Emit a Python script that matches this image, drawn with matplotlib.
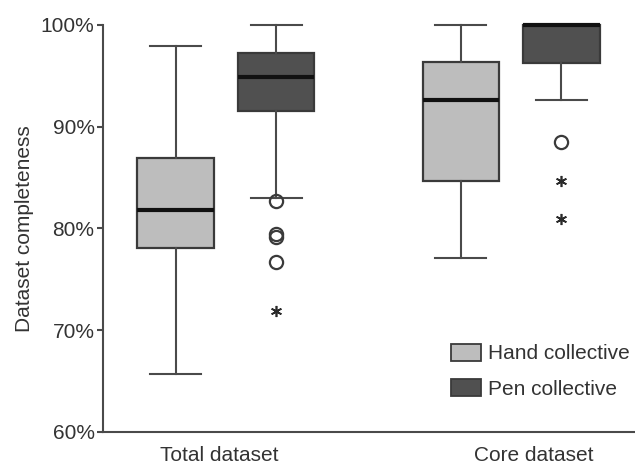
import matplotlib.pyplot as plt
from matplotlib.patches import Patch
from matplotlib.ticker import PercentFormatter

# Data (percent)
groups = ['Total dataset', 'Core dataset']
series = ['Hand collective', 'Pen collective']

# low whisker, Q1, median, Q3, high whisker
hand_stats = [[65.7, 78.1, 81.8, 86.9, 97.9], [77.1, 84.7, 92.6, 96.4, 100.0]]
pen_stats = [[83.0, 91.5, 94.9, 97.2, 100.0], [92.6, 96.3, 100.0, 100.0, 100.0]]

# outliers (circles) and extremes (stars)
hand_outliers = [[], []]
pen_outliers = [[82.7, 79.5, 79.2, 76.7], [88.5]]
hand_extremes = [[], []]
pen_extremes = [[71.9], [84.7, 80.9]]

colors = ['#bdbdbd', '#505050']
line_c = '#4a4a4a'
text_c = '#333333'

plt.rcParams['font.family'] = ['Liberation Sans', 'DejaVu Sans']

fig = plt.figure(figsize=(6.35, 4.71), dpi=100)
ax = fig.add_axes([0.162, 0.083, 0.838, 0.864])

offset = 0.177
width = 0.267


def make_stats(vals, fl):
    lo, q1, med, q3, hi = vals
    return dict(whislo=lo, q1=q1, med=med, q3=q3, whishi=hi, fliers=fl)


for s, (stats, outl, extr) in enumerate([(hand_stats, hand_outliers, hand_extremes),
                                          (pen_stats, pen_outliers, pen_extremes)]):
    pos = [g + 1 + (offset if s else -offset) for g in range(len(groups))]
    bx = [make_stats(stats[g], outl[g]) for g in range(len(groups))]
    arts = ax.bxp(bx, positions=pos, widths=width, patch_artist=True,
                  capwidths=0.18, manage_ticks=False,
                  boxprops=dict(facecolor=colors[s], edgecolor='#3a3a3a', linewidth=1.6),
                  medianprops=dict(color='#111111', linewidth=3),
                  whiskerprops=dict(color=line_c, linewidth=1.5),
                  capprops=dict(color=line_c, linewidth=1.5),
                  flierprops=dict(marker='o', markersize=9.5, markerfacecolor='none',
                                  markeredgecolor='#3a3a3a', markeredgewidth=1.6))
    for key in arts:
        for a in arts[key]:
            a.set_clip_on(False)
    for g in range(len(groups)):
        if extr[g]:
            ax.plot([pos[g]] * len(extr[g]), extr[g], linestyle='none',
                    marker=(6, 2, 0), markersize=8, markeredgecolor='#2a2a2a',
                    markeredgewidth=1.2)

ax.set_xlim(0.568, 2.435)
ax.set_ylim(60, 100)
ax.set_yticks([60, 70, 80, 90, 100])
ax.yaxis.set_major_formatter(PercentFormatter(decimals=0))
ax.set_xticks([0.975, 2.08])
ax.set_xticklabels(groups)
ax.tick_params(axis='x', length=0, pad=10, labelsize=15, labelcolor=text_c)
ax.tick_params(axis='y', length=4, width=1.5, color=line_c, pad=2,
               labelsize=15, labelcolor=text_c)
ax.set_ylabel('Dataset completeness', fontsize=15, color=text_c, labelpad=5)

for side in ['top', 'right']:
    ax.spines[side].set_visible(False)
for side in ['left', 'bottom']:
    ax.spines[side].set_color(line_c)
    ax.spines[side].set_linewidth(1.5)

handles = [Patch(facecolor=colors[i], edgecolor='#3a3a3a', linewidth=1.3) for i in range(2)]
ax.legend(handles, series, loc='lower right', bbox_to_anchor=(1.025, 0.035), frameon=False,
          fontsize=15, handlelength=1.4, handleheight=0.9, handletextpad=0.35,
          labelspacing=0.75, labelcolor=text_c)

fig.savefig('out.png', dpi=100)
